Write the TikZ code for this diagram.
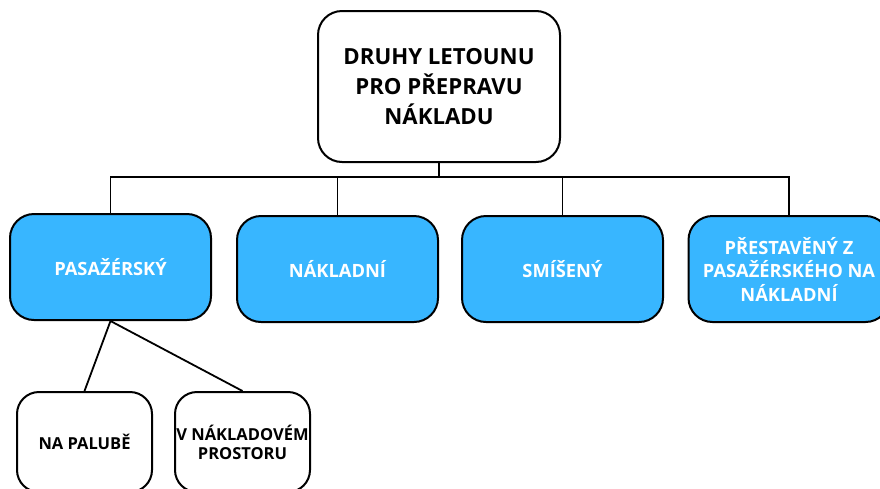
\documentclass[tikz,border=0pt]{standalone}
\usepackage{fontspec}
\setmainfont{Open Sans}[BoldFont={* Bold}]
\definecolor{boxblue}{HTML}{38B6FF}
\begin{document}
\begin{tikzpicture}[x=1pt,y=-1pt,
  base/.style={draw=black, line width=2pt, rounded corners=24pt, align=center,
    inner sep=0pt, font=\bfseries},
  topbox/.style={base, fill=white, minimum width=242pt, minimum height=151pt,
    font=\fontsize{22.2}{30}\selectfont\bfseries},
  bluebox/.style={base, fill=boxblue, text=white, minimum width=201pt, minimum height=106pt,
    font=\fontsize{18.3}{23.5}\selectfont\bfseries},
  leafbox/.style={base, fill=white, minimum width=135pt, minimum height=100pt, rounded corners=22pt,
    font=\fontsize{16.5}{19}\selectfont\bfseries},
  link/.style={draw=black, line width=1.8pt}]
\useasboundingbox (0,0) rectangle (880,488);
\clip (0,0) rectangle (880,488);
\fill[white] (0,0) rectangle (880,488);
\node[topbox] (top) at (439,86.5) {DRUHY LETOUNU\\PRO PŘEPRAVU\\NÁKLADU};
\node[bluebox] (b1) at (110.5,267) {PASAŽÉRSKÝ};
\node[bluebox] (b2) at (337.5,269) {NÁKLADNÍ};
\node[bluebox] (b3) at (562.5,269) {SMÍŠENÝ};
\node[bluebox] (b4) at (789,269) {PŘESTAVĚNÝ Z\\PASAŽÉRSKÉHO NA\\NÁKLADNÍ};
\node[leafbox] (l1) at (84.5,442) {NA PALUBĚ};
\node[leafbox] (l2) at (242.5,442) {V NÁKLADOVÉM\\PROSTORU};
\coordinate (j) at (439,177);
\draw[link] (top.south) -- (j);
\draw[link] (b1.north) -- (b1.north |- j) -- (b4.north |- j) -- (b4.north);
\draw[link] (b2.north) -- (b2.north |- j);
\draw[link] (b3.north) -- (b3.north |- j);
\draw[link] (b1.south) -- (l1.north);
\draw[link] (b1.south) -- (l2.north);
\end{tikzpicture}
\end{document}
